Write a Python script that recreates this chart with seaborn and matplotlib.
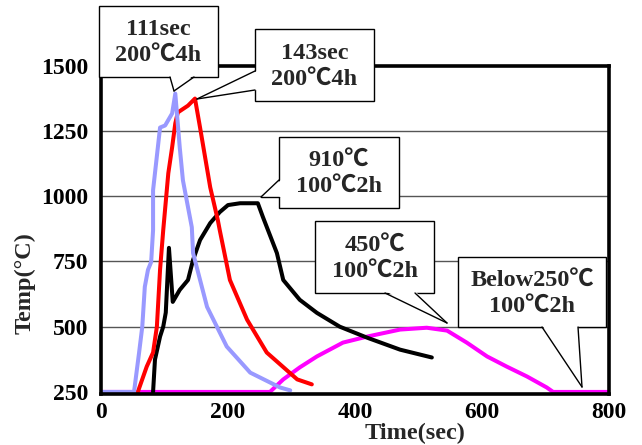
import matplotlib
matplotlib.use("Agg")
import matplotlib.pyplot as plt
import seaborn as sns
import pandas as pd
from matplotlib.patches import Rectangle, Polygon
from matplotlib.lines import Line2D

# ---- data ----
blue_t = [0, 52, 60, 65, 69, 74, 79, 82, 82, 93, 101, 112, 117, 124, 129, 143, 145, 167, 198, 235, 282, 298]
blue_T = [250, 250, 401, 500, 653, 718, 748, 870, 1023, 1263, 1271, 1317, 1393, 1187, 1061, 881, 782, 576, 424, 324, 267, 256]

red_t = [58, 72, 82, 88, 93, 98, 106, 112, 117, 121, 137, 148, 156, 172, 184, 187, 203, 230, 261, 309, 332]
red_T = [250, 347, 401, 500, 718, 870, 1088, 1187, 1279, 1321, 1347, 1374, 1263, 1034, 908, 870, 679, 527, 401, 298, 279]

black_t = [82, 85, 93, 98, 102, 107, 113, 124, 137, 145, 156, 172, 187, 200, 219, 247, 255, 277, 287, 313, 340, 376, 419, 471, 521]
black_T = [250, 374, 462, 500, 554, 802, 595, 641, 679, 756, 832, 897, 939, 966, 973, 973, 920, 782, 679, 603, 553, 500, 458, 412, 382]

mag_t = [0, 266, 287, 313, 340, 381, 419, 471, 513, 545, 576, 608, 639, 671, 702, 712, 800]
mag_T = [250, 250, 298, 344, 386, 439, 462, 489, 496, 485, 439, 386, 347, 309, 267, 250, 250]

x_ticks = [0, 200, 400, 600, 800]
y_ticks = [250, 500, 750, 1000, 1250, 1500]

callout_texts = ["111sec\n200℃4h", "143sec\n200℃4h", "910℃\n100℃2h",
                 "450℃\n100℃2h", "Below250℃\n100℃2h"]
# callout layout in figure pixels (from top-left): box (x0, y0, x1, y1), wedge base a, b, tip
callout_boxes = [(99, 6, 218, 77), (255, 29, 374, 101), (279, 137, 399, 208),
                 (315, 221, 434, 293), (458, 257, 606, 327)]
callout_wedges = [((170, 77), (194, 77), (174, 91)),
                  ((255, 71), (255, 90), (197, 99)),
                  ((279, 180), (279, 197), (261, 197)),
                  ((385, 293), (415, 293), (447, 323)),
                  ((542, 327), (578, 327), (582, 387))]

W, H = 642, 445

sns.set_style("white")
plt.rcParams['font.family'] = ['Liberation Serif', 'Noto Sans CJK JP', 'DejaVu Sans']
plt.rcParams['font.weight'] = 'bold'

fig = plt.figure(figsize=(W / 100, H / 100), dpi=100)
ax = fig.add_axes([101 / W, 1 - 393.5 / H, 508 / W, 327.8 / H])

series = [
    (mag_t, mag_T, '#FF00FF'),
    (black_t, black_T, '#000000'),
    (red_t, red_T, '#FF0000'),
    (blue_t, blue_T, '#9999FF'),
]
for t, T, c in series:
    df = pd.DataFrame({'t': t, 'T': T})
    sns.lineplot(data=df, x='t', y='T', color=c, lw=2.9, ax=ax, sort=False,
                 estimator=None, solid_joinstyle='round', solid_capstyle='round')

ax.set_xlim(0, 800)
ax.set_ylim(244, 1500)
ax.set_xticks(x_ticks)
ax.set_yticks(y_ticks)
ax.set_xticklabels([str(v) for v in x_ticks], fontsize=17, fontweight='bold')
ax.set_yticklabels([str(v) for v in y_ticks], fontsize=17, fontweight='bold')
ax.tick_params(axis='x', direction='in', length=4, width=1, pad=6, colors='black')
ax.tick_params(axis='y', length=0, pad=9, colors='black')
for g in [500, 750, 1000, 1250]:
    ax.axhline(g, color='#555555', lw=1.0, zorder=0.5)
for s in ax.spines.values():
    s.set_linewidth(2.6)
    s.set_color('black')

ax.set_xlabel('Time(sec)', fontsize=17.5, fontweight='bold')
ax.xaxis.set_label_coords((415 - 101) / 508, -0.09)
ax.set_ylabel('Temp(°C)', fontsize=17.5, fontweight='bold')
ax.yaxis.set_label_coords(-0.128, (393.5 - 283.5) / 327.8)


def fxy(p):
    return (p[0] / W, 1 - p[1] / H)


for text, box, wedge in zip(callout_texts, callout_boxes, callout_wedges):
    x0, y0, x1, y1 = box
    (ax0, ay0) = fxy((x0, y1))
    (bx1, by1) = fxy((x1, y0))
    fig.add_artist(Rectangle((ax0, ay0), bx1 - ax0, by1 - ay0, transform=fig.transFigure,
                             fc='white', ec='black', lw=1.0, zorder=5))
    a, b, tip = wedge
    cx, cy = (x0 + x1) / 2, (y0 + y1) / 2

    def inward(p):
        dx = 0 if p[0] not in (x0, x1) else (2 if p[0] == x0 else -2)
        dy = 0 if p[1] not in (y0, y1) else (2 if p[1] == y0 else -2)
        return (p[0] + dx, p[1] + dy)
    fig.add_artist(Polygon([fxy(inward(a)), fxy(tip), fxy(inward(b))], closed=True,
                           transform=fig.transFigure, fc='white', ec='none', zorder=6))
    for p in (a, b):
        q0, q1 = fxy(p), fxy(tip)
        fig.add_artist(Line2D([q0[0], q1[0]], [q0[1], q1[1]], transform=fig.transFigure,
                              color='black', lw=1.0, zorder=7))
    fig.text(cx / W, 1 - (cy + 1) / H, text, ha='center', va='center', fontsize=17.5,
             fontweight='bold', linespacing=1.3, zorder=8)

fig.savefig('out.png', dpi=100)
